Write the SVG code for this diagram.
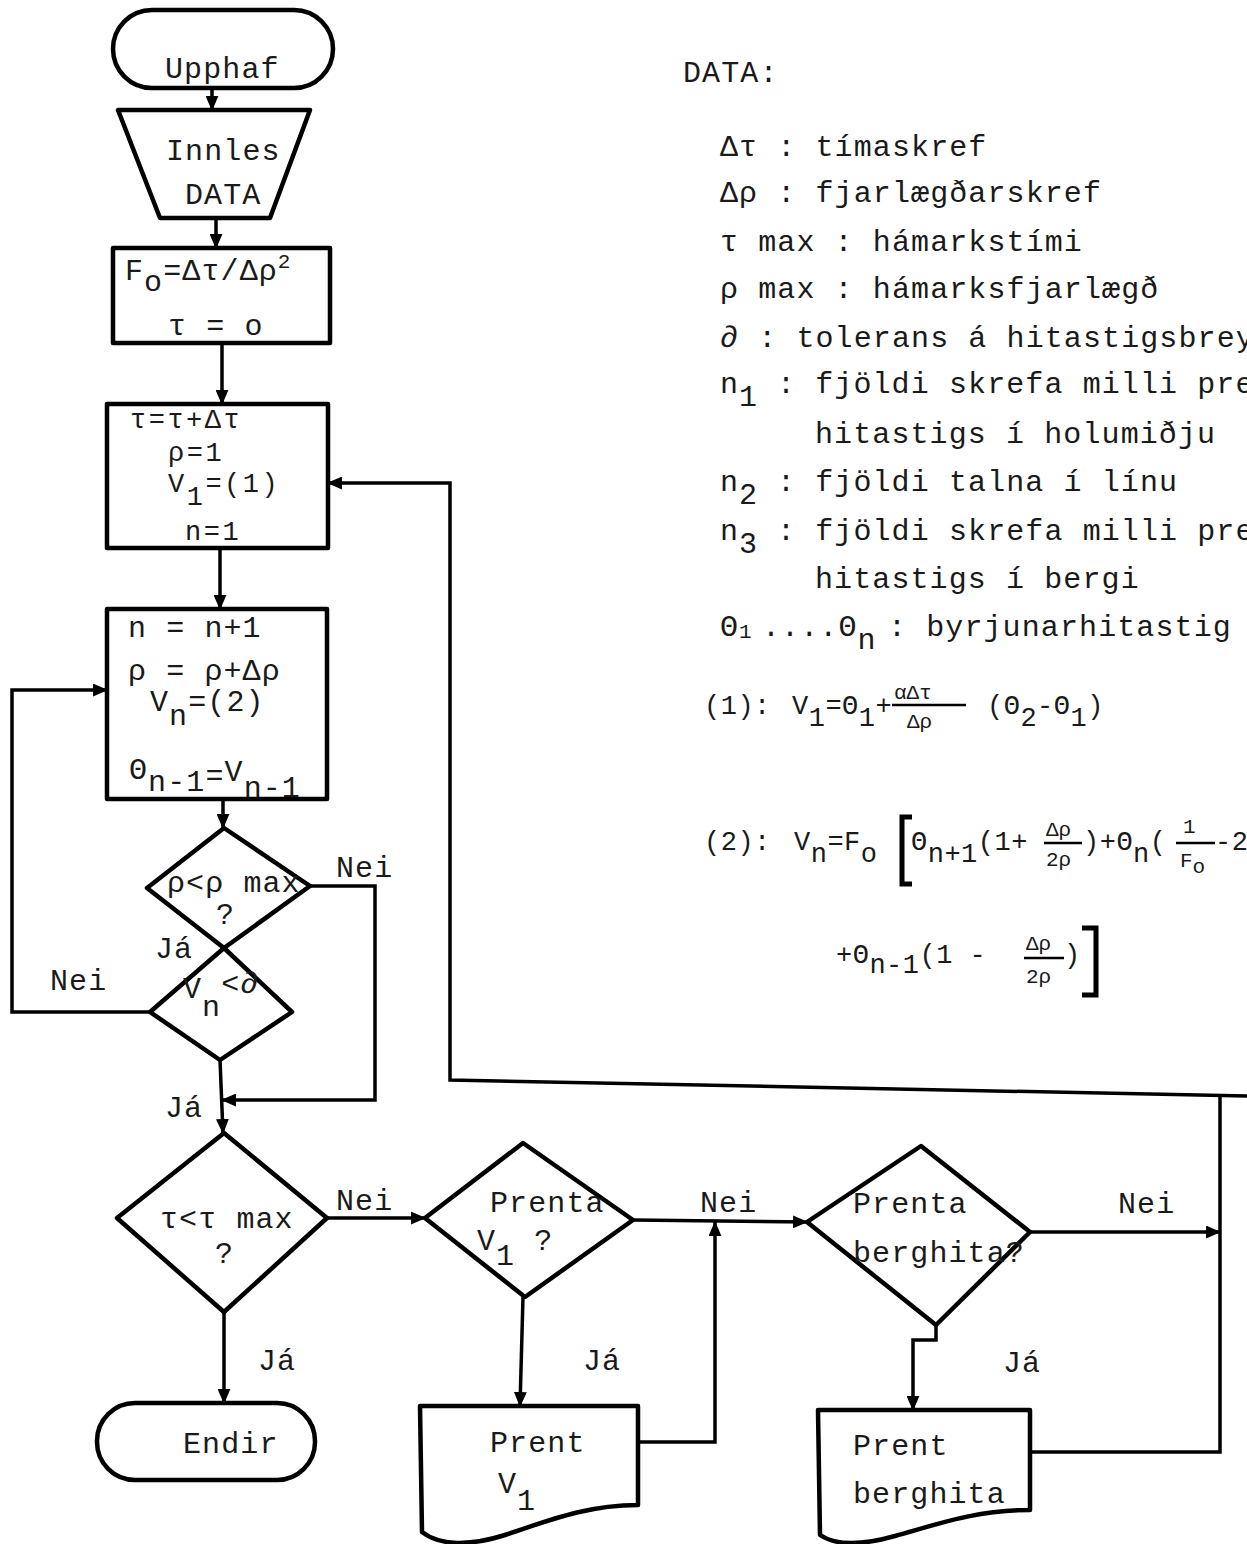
<svg xmlns="http://www.w3.org/2000/svg" width="1247" height="1544" viewBox="0 0 1247 1544">
<defs>
<marker id="ah" viewBox="0 0 14 12" refX="13" refY="6" markerWidth="15" markerHeight="13" markerUnits="userSpaceOnUse" orient="auto">
<path d="M0,0 L14,6 L0,12 z" fill="#000"/>
</marker>
<style>
.shape{fill:#fff;stroke:#000;stroke-width:4.5;stroke-linejoin:round}
.conn{fill:none;stroke:#000;stroke-width:3.5}
text{font-family:"Liberation Mono","DejaVu Sans Mono",monospace;font-size:30px;letter-spacing:1.1px;fill:#1a1a1a}
.b{font-size:27px;letter-spacing:2.5px}
.f{font-size:27px;letter-spacing:0.5px}
.s{font-size:21px;letter-spacing:0}
</style>
</defs>
<rect width="1247" height="1544" fill="#fff"/>

<g id="connectors">
<line class="conn" x1="212" y1="88" x2="212" y2="110" marker-end="url(#ah)"/>
<line class="conn" x1="216" y1="218" x2="216" y2="248" marker-end="url(#ah)"/>
<line class="conn" x1="222" y1="343" x2="222" y2="404" marker-end="url(#ah)"/>
<line class="conn" x1="220" y1="548" x2="220" y2="609" marker-end="url(#ah)"/>
<line class="conn" x1="223" y1="799" x2="223" y2="828" marker-end="url(#ah)"/>
<polyline class="conn" points="310,886 375,886 375,1100 222,1100" marker-end="url(#ah)"/>
<polyline class="conn" points="150,1012 12,1012 12,690 107,690" marker-end="url(#ah)"/>
<line class="conn" x1="220" y1="1060" x2="223" y2="1133" marker-end="url(#ah)"/>
<line class="conn" x1="224" y1="1312" x2="224" y2="1403" marker-end="url(#ah)"/>
<line class="conn" x1="327" y1="1218" x2="425" y2="1218" marker-end="url(#ah)"/>
<line class="conn" x1="523" y1="1297" x2="520" y2="1406" marker-end="url(#ah)"/>
<line class="conn" x1="633" y1="1220" x2="807" y2="1222" marker-end="url(#ah)"/>
<polyline class="conn" points="638,1442 715,1442 715,1222" marker-end="url(#ah)"/>
<line class="conn" x1="1030" y1="1232" x2="1220" y2="1232" marker-end="url(#ah)"/>
<polyline class="conn" points="936,1325 936,1340 913,1340 913,1410" marker-end="url(#ah)"/>
<polyline class="conn" points="1030,1452 1220,1452 1220,1095"/>
<polyline class="conn" points="1247,1096 450,1080 450,483 328,483" marker-end="url(#ah)"/>
</g>

<g id="upphaf">
<rect class="shape" x="113" y="10" width="220" height="78" rx="39"/>
<text x="165" y="78">Upphaf</text>
</g>

<g id="innles">
<polygon class="shape" points="118,110 310,110 270,218 160,218"/>
<text x="166" y="160">Innles</text>
<text x="185" y="204">DATA</text>
</g>

<g id="init">
<rect class="shape" x="113" y="248" width="217" height="95"/>
<text x="125" y="280">F<tspan dy="11">o</tspan><tspan dy="-11">=Δτ/Δρ</tspan><tspan dy="-12" class="s">2</tspan></text>
<text x="168" y="335">τ = o</text>
</g>

<g id="step">
<rect class="shape" x="107" y="404" width="221" height="144"/>
<text class="b" x="130" y="428">τ=τ+Δτ</text>
<text class="b" x="168" y="461">ρ=1</text>
<text class="b" x="168" y="492">V<tspan dy="13">1</tspan><tspan dy="-13">=(1)</tspan></text>
<text class="b" x="185" y="540">n=1</text>
</g>

<g id="inner">
<rect class="shape" x="107" y="609" width="220" height="190"/>
<text x="128" y="637">n = n+1</text>
<text x="128" y="680">ρ = ρ+Δρ</text>
<text x="150" y="711">V<tspan dy="14">n</tspan><tspan dy="-14">=(2)</tspan></text>
<text x="129" y="779">Θ<tspan dy="12">n-1</tspan><tspan dy="-6">=</tspan><tspan dy="-4">V</tspan><tspan dy="16">n-1</tspan></text>
</g>

<g id="rhomax">
<polygon class="shape" points="224,828 310,886 224,948 147,888"/>
<text x="167" y="892">ρ&lt;ρ max</text>
<text x="216" y="924">?</text>
</g>

<g id="vtol">
<polygon class="shape" points="224,948 292,1012 220,1060 150,1012"/>
<text x="183" y="998">V<tspan dy="18">n</tspan><tspan dy="-23">&lt;∂</tspan></text>
</g>

<g id="taumax">
<polygon class="shape" points="224,1133 327,1218 224,1312 117,1218"/>
<text x="160" y="1228">τ&lt;τ max</text>
<text x="215" y="1263">?</text>
</g>

<g id="endir">
<rect class="shape" x="97" y="1403" width="218" height="77" rx="38"/>
<text x="183" y="1453">Endir</text>
</g>

<g id="prentav1">
<polygon class="shape" points="523,1143 633,1220 525,1297 425,1218"/>
<text x="490" y="1212">Prenta</text>
<text x="477" y="1250">V<tspan dy="15">1</tspan><tspan dy="-15"> ?</tspan></text>
</g>

<g id="prentv1">
<path class="shape" d="M420,1406 H638 V1505 C585,1505 545,1522 505,1535 C470,1546 440,1546 422,1532 Z"/>
<text x="490" y="1452">Prent</text>
<text x="498" y="1493">V<tspan dy="17">1</tspan></text>
</g>

<g id="prentaberg">
<polygon class="shape" points="921,1146 1030,1232 936,1325 807,1222"/>
<text x="853" y="1213">Prenta</text>
<text x="853" y="1262">berghita?</text>
</g>

<g id="prentberg">
<path class="shape" d="M818,1410 H1030 V1510 C975,1510 935,1525 895,1536 C860,1546 835,1545 820,1535 Z"/>
<text x="853" y="1455">Prent</text>
<text x="853" y="1503">berghita</text>
</g>

<g id="labels">
<text x="336" y="877">Nei</text>
<text x="155" y="958">Já</text>
<text x="50" y="990">Nei</text>
<text x="165" y="1117">Já</text>
<text x="336" y="1210">Nei</text>
<text x="258" y="1370">Já</text>
<text x="700" y="1212">Nei</text>
<text x="583" y="1370">Já</text>
<text x="1118" y="1213">Nei</text>
<text x="1003" y="1372">Já</text>
</g>

<g id="data">
<text x="683" y="82">DATA:</text>
<text x="720" y="156">Δτ : tímaskref</text>
<text x="720" y="202">Δρ : fjarlægðarskref</text>
<text x="720" y="251">τ max : hámarkstími</text>
<text x="720" y="298">ρ max : hámarksfjarlægð</text>
<text x="720" y="347">∂ : tolerans á hitastigsbrey</text>
<text x="720" y="393">n<tspan dy="13">1</tspan><tspan x="777" dy="-13">: fjöldi skrefa milli pre</tspan></text>
<text x="815" y="443">hitastigs í holumiðju</text>
<text x="720" y="491">n<tspan dy="13">2</tspan><tspan x="777" dy="-13">: fjöldi talna í línu</tspan></text>
<text x="720" y="540">n<tspan dy="13">3</tspan><tspan x="777" dy="-13">: fjöldi skrefa milli pre</tspan></text>
<text x="815" y="588">hitastigs í bergi</text>
<text x="720" y="636">Θ<tspan class="s" dy="2">1</tspan><tspan x="762" dy="-2">....Θ</tspan><tspan dy="13">n</tspan><tspan x="888" dy="-13">: byrjunarhitastig</tspan></text>
</g>

<g id="formula1">
<text class="f" x="704" y="714">(1):</text>
<text class="f" x="792" y="714">V<tspan dy="12">1</tspan><tspan dy="-12">=Θ</tspan><tspan dy="12">1</tspan><tspan dy="-12">+</tspan></text>
<text class="s" x="894" y="699">αΔτ</text>
<line x1="892" y1="705" x2="966" y2="705" stroke="#000" stroke-width="2.5"/>
<text class="s" x="907" y="728">Δρ</text>
<text class="f" x="987" y="714">(Θ<tspan dy="12">2</tspan><tspan dy="-12">-Θ</tspan><tspan dy="12">1</tspan><tspan dy="-12">)</tspan></text>
</g>

<g id="formula2">
<text class="f" x="704" y="850">(2):</text>
<text class="f" x="794" y="850">V<tspan dy="12">n</tspan><tspan dy="-12">=F</tspan><tspan dy="12">o</tspan></text>
<path d="M912,817 H902 V884 H912" fill="none" stroke="#000" stroke-width="5"/>
<text class="f" x="911" y="850">Θ<tspan dy="12">n+1</tspan><tspan dy="-12">(1+</tspan></text>
<text class="s" x="1046" y="836">Δρ</text>
<line x1="1044" y1="843" x2="1082" y2="843" stroke="#000" stroke-width="2.5"/>
<text class="s" x="1046" y="866">2ρ</text>
<text class="f" x="1083" y="850">)+Θ<tspan dy="12">n</tspan><tspan dy="-12">(</tspan></text>
<text class="s" x="1183" y="833">1</text>
<line x1="1176" y1="843" x2="1215" y2="843" stroke="#000" stroke-width="2.5"/>
<text class="s" x="1180" y="867">F<tspan dy="6">o</tspan></text>
<text class="f" x="1215" y="850">-2</text>
<text class="f" x="836" y="963">+Θ<tspan dy="10">n-1</tspan><tspan dy="-10">(1 - </tspan></text>
<text class="s" x="1026" y="950">Δρ</text>
<line x1="1024" y1="958" x2="1064" y2="958" stroke="#000" stroke-width="2.5"/>
<text class="s" x="1026" y="983">2ρ</text>
<text class="f" x="1064" y="963">)</text>
<path d="M1082,928 H1096 V995 H1082" fill="none" stroke="#000" stroke-width="5"/>
</g>
</svg>
